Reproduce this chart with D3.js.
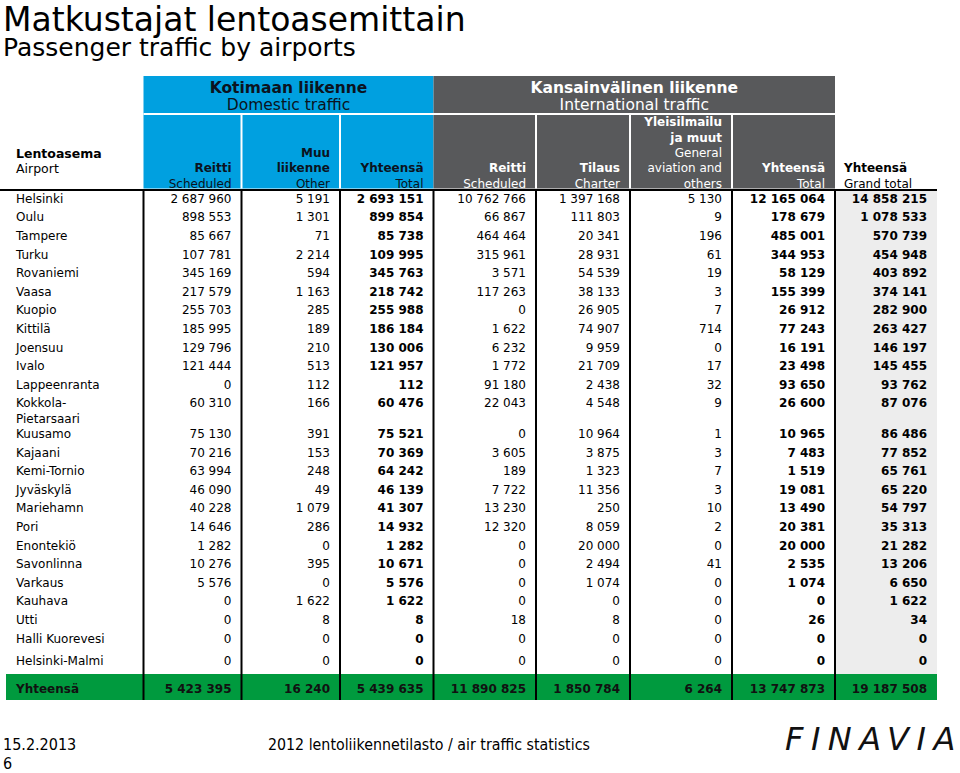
<!DOCTYPE html>
<html>
<head>
<meta charset="utf-8">
<script src="https://cdn.jsdelivr.net/npm/d3@7"></script>
<style>
  body { margin: 0; background: #fff; }
  svg { display: block; font-family: "DejaVu Sans", Verdana, sans-serif; }
</style>
</head>
<body>
<svg id="chart"></svg>
<script>
// airports in table order
var airports = ["Helsinki", "Oulu", "Tampere", "Turku", "Rovaniemi", "Vaasa", "Kuopio",
  "Kittilä", "Joensuu", "Ivalo", "Lappeenranta", "Kokkola-\nPietarsaari", "Kuusamo", "Kajaani",
  "Kemi-Tornio", "Jyväskylä", "Mariehamn", "Pori", "Enontekiö", "Savonlinna", "Varkaus",
  "Kauhava", "Utti", "Halli Kuorevesi", "Helsinki-Malmi"];

// domestic traffic
var domScheduled = [2687960, 898553, 85667, 107781, 345169, 217579, 255703, 185995, 129796,
  121444, 0, 60310, 75130, 70216, 63994, 46090, 40228, 14646, 1282, 10276, 5576, 0, 0, 0, 0];
var domOther = [5191, 1301, 71, 2214, 594, 1163, 285, 189, 210, 513, 112, 166, 391, 153, 248,
  49, 1079, 286, 0, 395, 0, 1622, 8, 0, 0];
var domTotal = [2693151, 899854, 85738, 109995, 345763, 218742, 255988, 186184, 130006, 121957,
  112, 60476, 75521, 70369, 64242, 46139, 41307, 14932, 1282, 10671, 5576, 1622, 8, 0, 0];

// international traffic
var intScheduled = [10762766, 66867, 464464, 315961, 3571, 117263, 0, 1622, 6232, 1772, 91180,
  22043, 0, 3605, 189, 7722, 13230, 12320, 0, 0, 0, 0, 18, 0, 0];
var intCharter = [1397168, 111803, 20341, 28931, 54539, 38133, 26905, 74907, 9959, 21709, 2438,
  4548, 10964, 3875, 1323, 11356, 250, 8059, 20000, 2494, 1074, 0, 8, 0, 0];
var intGeneral = [5130, 9, 196, 61, 19, 3, 7, 714, 0, 17, 32, 9, 1, 3, 7, 3, 10, 2, 0, 41, 0,
  0, 0, 0, 0];
var intTotal = [12165064, 178679, 485001, 344953, 58129, 155399, 26912, 77243, 16191, 23498,
  93650, 26600, 10965, 7483, 1519, 19081, 13490, 20381, 20000, 2535, 1074, 0, 26, 0, 0];

var grandTotal = [14858215, 1078533, 570739, 454948, 403892, 374141, 282900, 263427, 146197,
  145455, 93762, 87076, 86486, 77852, 65761, 65220, 54797, 35313, 21282, 13206, 6650, 1622,
  34, 0, 0];

var totalLabel = "Yhteensä";
var totals = [5423395, 16240, 5439635, 11890825, 1850784, 6264, 13747873, 19187508];

// header texts
var colHeadBold = [["Reitti"], ["Muu", "liikenne"], ["Yhteensä"], ["Reitti"], ["Tilaus"],
  ["Yleisilmailu", "ja muut"], ["Yhteensä"], ["Yhteensä"]];
var colHeadNormal = [["Scheduled"], ["Other"], ["Total"], ["Scheduled"], ["Charter"],
  ["General", "aviation and", "others"], ["Total"], ["Grand total"]];
var groups = [
  {bold: "Kotimaan liikenne", normal: "Domestic traffic", from: 0, to: 3},
  {bold: "Kansainvälinen liikenne", normal: "International traffic", from: 3, to: 7}
];

var columns = [domScheduled, domOther, domTotal, intScheduled, intCharter, intGeneral, intTotal, grandTotal];
var boldCols = [2, 6, 7];

var w = 960, h = 773;
var svg = d3.select("#chart").attr("width", w).attr("height", h);

var fmt = d3.formatLocale({decimal: ",", thousands: "\u00a0", grouping: [3], currency: ["", ""]}).format(",d");

// column edges (left of first value column ... right of grand total)
var edges = [143.5, 241.5, 340, 433.5, 536, 630, 732, 835, 937];
var colRight = d3.scaleOrdinal().domain(d3.range(8)).range(edges.slice(1));
var pad = 10;

// row baselines; a two line name needs more room
var step = 18.6;
var ys = [], y = 202.7;
airports.forEach(function(a, i) {
  if (i > 0) {
    y += step;
    if (airports[i - 1].indexOf("\n") >= 0) y += 12;
    if (i == airports.length - 1) y += 3.7;
  }
  ys.push(y);
});
var rowY = d3.scaleOrdinal().domain(airports).range(ys);
var totalY = 692.7;

// title
svg.append("text").text("Matkustajat lentoasemittain")
  .attr("x", 3).attr("y", 30.5).attr("font-size", 33).attr("fill", "#000");
svg.append("text").text("Passenger traffic by airports")
  .attr("x", 3).attr("y", 55.5).attr("font-size", 25).attr("fill", "#000");

// header blocks
var headTop = 76, headMid = 113, headBottom = 188.5;
var groupColor = ["#00a0e0", "#58595b"];
var groupText = ["#0b1320", "#ffffff"];

groups.forEach(function(g, gi) {
  var x0 = edges[g.from], x1 = edges[g.to];
  svg.append("rect")
    .attr("x", x0).attr("y", headTop)
    .attr("width", x1 - x0).attr("height", headBottom - headTop)
    .attr("fill", groupColor[gi]);
  svg.append("text").text(g.bold)
    .attr("x", (x0 + x1) / 2).attr("y", 93)
    .attr("text-anchor", "middle").attr("font-weight", "bold")
    .attr("font-size", 15.5).attr("fill", groupText[gi]);
  svg.append("text").text(g.normal)
    .attr("x", (x0 + x1) / 2).attr("y", 110)
    .attr("text-anchor", "middle")
    .attr("font-size", 15.5).attr("fill", groupText[gi]);
});

// white separators inside the header
svg.append("rect").attr("x", edges[0]).attr("y", headMid)
  .attr("width", edges[7] - edges[0]).attr("height", 2).attr("fill", "#fff");
[1, 2, 4, 5, 6].forEach(function(k) {
  svg.append("line")
    .attr("x1", edges[k]).attr("x2", edges[k])
    .attr("y1", headMid).attr("y2", headBottom)
    .attr("stroke", "#fff").attr("stroke-width", 2);
});

// column headers, stacked up from the bottom line
var lineStep = 15.3;
columns.forEach(function(c, ci) {
  var lines = colHeadBold[ci].map(function(t) { return {t: t, b: true}; })
    .concat(colHeadNormal[ci].map(function(t) { return {t: t, b: false}; }));
  var grand = ci == 7;
  var color = grand ? "#000" : (ci < 3 ? groupText[0] : groupText[1]);
  lines.forEach(function(l, li) {
    svg.append("text").text(l.t)
      .attr("x", grand ? 844 : colRight(ci) - pad)
      .attr("y", 187.5 - (lines.length - 1 - li) * lineStep)
      .attr("text-anchor", grand ? "start" : "end")
      .attr("font-weight", l.b ? "bold" : "normal")
      .attr("font-size", 12).attr("fill", color);
  });
});

svg.append("text").text("Lentoasema")
  .attr("x", 16).attr("y", 158).attr("font-weight", "bold").attr("font-size", 12.5);
svg.append("text").text("Airport")
  .attr("x", 16).attr("y", 173).attr("font-size", 12.5);

// grand total column shading
svg.append("rect")
  .attr("x", edges[7]).attr("y", 190)
  .attr("width", edges[8] - edges[7]).attr("height", 674 - 190)
  .attr("fill", "#ededed");

// total row band
svg.append("rect")
  .attr("x", 6).attr("y", 674)
  .attr("width", edges[8] - 6).attr("height", 26)
  .attr("fill", "#009a3e");

// body rows
var rows = svg.append("g").selectAll("g")
  .data(airports)
  .enter().append("g")
  .attr("transform", function(d) { return "translate(0," + rowY(d) + ")"; });

rows.append("text")
  .attr("x", 16).attr("font-size", 12).attr("fill", "#000")
  .selectAll("tspan")
  .data(function(d) { return d.split("\n"); })
  .enter().append("tspan")
  .attr("x", 16)
  .attr("dy", function(d, i) { return i == 0 ? 0 : 15.7; })
  .text(function(d) { return d; });

rows.selectAll("text.val")
  .data(function(d, i) { return columns.map(function(c, ci) { return {v: c[i], ci: ci}; }); })
  .enter().append("text")
  .attr("class", "val")
  .attr("x", function(d) { return colRight(d.ci) - pad; })
  .attr("text-anchor", "end")
  .attr("font-size", 12)
  .attr("font-weight", function(d) { return boldCols.indexOf(d.ci) >= 0 ? "bold" : "normal"; })
  .attr("fill", "#000")
  .text(function(d) { return fmt(d.v); });

// total row
svg.append("text").text(totalLabel)
  .attr("x", 16).attr("y", totalY).attr("font-size", 12).attr("font-weight", "bold").attr("fill", "#111");
svg.selectAll("text.tot")
  .data(totals)
  .enter().append("text")
  .attr("class", "tot")
  .attr("x", function(d, i) { return colRight(i) - pad; })
  .attr("y", totalY)
  .attr("text-anchor", "end")
  .attr("font-size", 12).attr("font-weight", "bold").attr("fill", "#111")
  .text(function(d) { return fmt(d); });

// grid lines
svg.append("line")
  .attr("x1", 0).attr("x2", edges[8])
  .attr("y1", 190).attr("y2", 190)
  .attr("stroke", "#000").attr("stroke-width", 2);
svg.selectAll("line.v")
  .data(edges.slice(0, 8))
  .enter().append("line")
  .attr("class", "v")
  .attr("x1", function(d) { return d; }).attr("x2", function(d) { return d; })
  .attr("y1", 189).attr("y2", 700)
  .attr("stroke", "#000").attr("stroke-width", 2);

// footer
var footFont = "'DejaVu Sans Condensed', 'Liberation Sans Narrow', sans-serif";
svg.append("text").text("15.2.2013")
  .attr("x", 3).attr("y", 750)
  .attr("font-family", footFont).attr("font-size", 16);
svg.append("text").text("6")
  .attr("x", 3).attr("y", 769)
  .attr("font-family", footFont).attr("font-size", 16);
svg.append("text").text("2012 lentoliikennetilasto / air traffic statistics")
  .attr("x", 268).attr("y", 750)
  .attr("font-family", footFont).attr("font-size", 15.8);

// logo, letters spaced without trailing space
svg.append("text")
  .attr("x", 785).attr("y", 750)
  .attr("font-style", "italic")
  .attr("font-size", 32)
  .attr("fill", "#111")
  .selectAll("tspan")
  .data("FINAVIA".split(""))
  .enter().append("tspan")
  .attr("dx", function(d, i) { return i == 0 ? 0 : 7.5; })
  .text(function(d) { return d; });
</script>
</body>
</html>
